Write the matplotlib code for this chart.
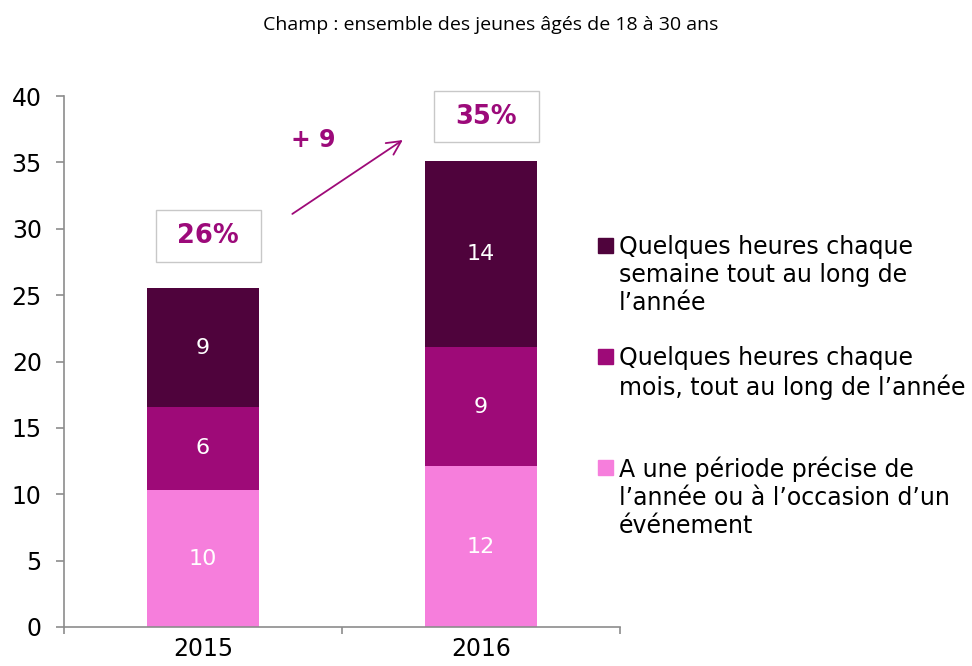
import matplotlib.pyplot as plt
from matplotlib.patches import Rectangle

# data
years = ['2015', '2016']
occasion = [10.3, 12.1]      # A une periode precise
monthly = [6.3, 9.0]         # quelques heures chaque mois
weekly = [8.9, 14.0]         # quelques heures chaque semaine
occasion_lbl = ['10', '12']
monthly_lbl = ['6', '9']
weekly_lbl = ['9', '14']
total_lbl = ['26%', '35%']
diff_lbl = '+ 9'

series_names = [
    "Quelques heures chaque\nsemaine tout au long de\nl\u2019ann\u00e9e",
    "Quelques heures chaque\nmois, tout au long de l\u2019ann\u00e9e",
    "A une p\u00e9riode pr\u00e9cise de\nl\u2019ann\u00e9e ou \u00e0 l\u2019occasion d\u2019un\n\u00e9v\u00e9nement",
]
c_dark = '#4f033c'
c_mid = '#9e0a78'
c_pink = '#f67edc'
c_text = '#9c0a7a'
c_axis = '#8c8c8c'

W, H = 972, 666
fig = plt.figure(figsize=(W / 100, H / 100), dpi=100)
ax = fig.add_axes([64 / W, 1 - 627 / H, 556 / W, 531 / H])

x = list(range(len(years)))
bw = 0.4
b1 = ax.bar(x, occasion, bw, color=c_pink)
b2 = ax.bar(x, monthly, bw, bottom=occasion, color=c_mid)
bottom3 = [a + b for a, b in zip(occasion, monthly)]
b3 = ax.bar(x, weekly, bw, bottom=bottom3, color=c_dark)

for bars, labels in [(b1, occasion_lbl), (b2, monthly_lbl), (b3, weekly_lbl)]:
    for rect, lab in zip(bars, labels):
        ax.text(rect.get_x() + rect.get_width() / 2,
                rect.get_y() + rect.get_height() / 2, lab,
                ha='center', va='center', color='white', fontsize=16)

ax.set_xlim(-0.5, 1.5)
ax.set_ylim(0, 40)
ax.set_yticks(range(0, 41, 5))
ax.set_xticks(x)
ax.set_xticklabels(years)
ax.set_xticks([-0.5, 0.5, 1.5], minor=True)
ax.tick_params(axis='x', which='major', length=0, pad=7, labelsize=17)
ax.tick_params(axis='x', which='minor', length=5, color=c_axis, width=1.2)
ax.tick_params(axis='y', length=6, color=c_axis, width=1.2, pad=10, labelsize=17)
for s in ['top', 'right']:
    ax.spines[s].set_visible(False)
for s in ['left', 'bottom']:
    ax.spines[s].set_color(c_axis)
    ax.spines[s].set_linewidth(1.2)

# total boxes
totals = [o + m + w for o, m, w in zip(occasion, monthly, weekly)]
box_y = [totals[0] + 2.0, totals[1] + 1.4]
for xi, yb, lab in zip(x, box_y, total_lbl):
    ax.add_patch(Rectangle((xi - 0.17, yb), 0.378, 3.9, fill=False,
                           edgecolor='#c8c8c8', linewidth=1.0, clip_on=False))
    ax.text(xi + 0.019, yb + 1.95, lab, ha='center', va='center',
            color=c_text, fontsize=18.5, fontweight='bold')

ax.annotate('', xy=(0.727, 36.8), xytext=(0.313, 31.0),
            arrowprops=dict(arrowstyle='->', color=c_mid, lw=1.3,
                            mutation_scale=25))
ax.text(0.396, 36.7, diff_lbl, ha='center', va='center',
        color=c_text, fontsize=17, fontweight='bold')

# legend drawn by hand to keep the marker on the first line
legend_colors = [c_dark, c_mid, c_pink]
legend_tops = [235, 346, 457]
for name, col, top in zip(series_names, legend_colors, legend_tops):
    fig.add_artist(Rectangle((598 / W, 1 - (top + 18) / H), 15 / W, 15 / H,
                             color=col, transform=fig.transFigure))
    fig.text(619 / W, 1 - top / H, name, ha='left', va='top',
             fontsize=17, linespacing=1.2, color='black')

fig.text(491 / W, 1 - 25 / H, 'Champ : ensemble des jeunes \u00e2g\u00e9s de 18 \u00e0 30 ans',
         ha='center', va='center', fontsize=14,
         family=['Liberation Sans Narrow', 'Open Sans', 'DejaVu Sans'])

fig.savefig('out.png', dpi=100)
